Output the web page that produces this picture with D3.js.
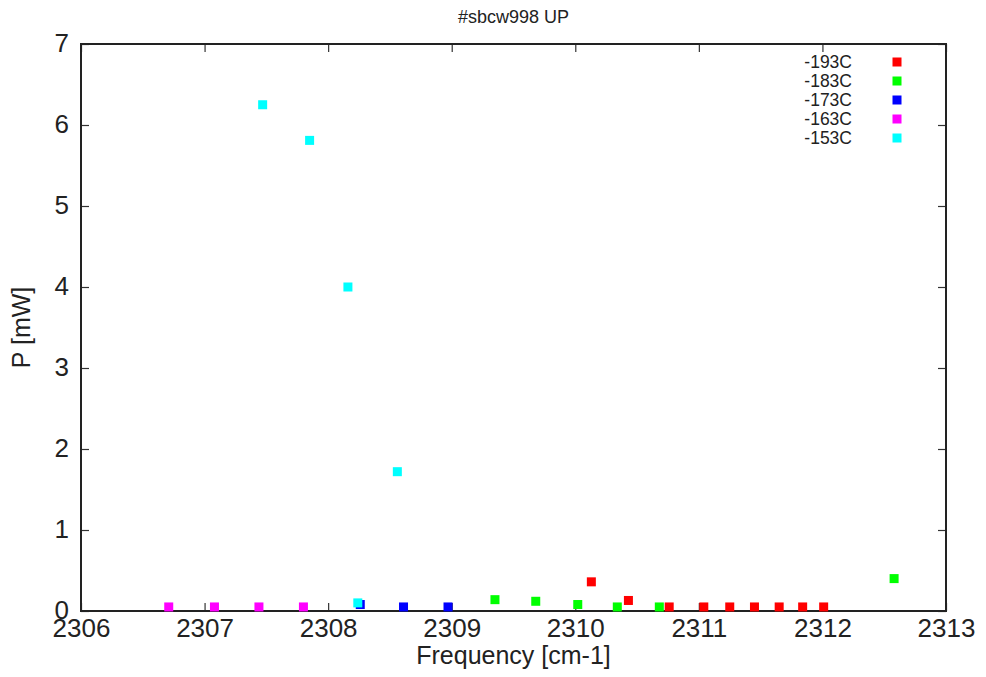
<!DOCTYPE html>
<html>
<head>
<meta charset="utf-8">
<script src="https://cdn.jsdelivr.net/npm/d3@7"></script>
<style>
  body { margin: 0; background: #fff; }
  text { font-family: "Liberation Sans", Arial, sans-serif; fill: #222; }
</style>
</head>
<body>
<div id="chart"></div>
<script>
// series, in draw order
const seriesNames = ['-193C', '-183C', '-173C', '-163C', '-153C'];
const seriesColors = ['#ff0000', '#00ff00', '#0000ff', '#ff00ff', '#00ffff'];

const freq193 = [2310.13, 2310.43, 2310.76, 2311.04, 2311.25, 2311.45, 2311.65, 2311.84, 2312.01];
const power193 = [0.36, 0.13, 0.05, 0.05, 0.05, 0.05, 0.05, 0.05, 0.05];

const freq183 = [2309.35, 2309.68, 2310.02, 2310.34, 2310.68, 2312.58];
const power183 = [0.14, 0.12, 0.08, 0.05, 0.05, 0.40];

const freq173 = [2308.26, 2308.61, 2308.97];
const power173 = [0.08, 0.05, 0.05];

const freq163 = [2306.71, 2307.08, 2307.44, 2307.80];
const power163 = [0.05, 0.05, 0.05, 0.05];

const freq153 = [2307.47, 2307.85, 2308.16, 2308.56, 2308.24];
const power153 = [6.25, 5.81, 4.00, 1.72, 0.10];

const xTicks = [2306, 2307, 2308, 2309, 2310, 2311, 2312, 2313];
const yTicks = [0, 1, 2, 3, 4, 5, 6, 7];

const allFreq = [freq193, freq183, freq173, freq163, freq153];
const allPower = [power193, power183, power173, power163, power153];

const width = 986, height = 677;
const margin = { top: 44, right: 40, bottom: 66, left: 81 };
const innerW = width - margin.left - margin.right;
const innerH = height - margin.top - margin.bottom;

const svg = d3.select('#chart').append('svg')
    .attr('width', width)
    .attr('height', height);

const x = d3.scaleLinear().domain([2306, 2313]).range([0, innerW]);
const y = d3.scaleLinear().domain([0, 7]).range([innerH, 0]);

const g = svg.append('g')
    .attr('transform', `translate(${margin.left},${margin.top})`);

// inward ticks on all four sides (gnuplot style)
const tickLen = 8;
g.append('g')
    .attr('transform', `translate(0,${innerH})`)
    .call(d3.axisBottom(x).tickValues(xTicks).tickSize(-tickLen).tickPadding(8).tickFormat(d3.format('d')))
    .call(a => a.select('.domain').remove())
    .call(a => a.selectAll('text').style('font-size', '26px').attr('dy', '0.71em'));

g.append('g')
    .call(d3.axisTop(x).tickValues(xTicks).tickSize(-tickLen).tickFormat(''))
    .call(a => a.select('.domain').remove());

g.append('g')
    .call(d3.axisLeft(y).tickValues(yTicks).tickSize(-tickLen).tickPadding(12).tickFormat(d3.format('d')))
    .call(a => a.select('.domain').remove())
    .call(a => a.selectAll('text').style('font-size', '26px').attr('dy', '0.27em'));

g.append('g')
    .attr('transform', `translate(${innerW},0)`)
    .call(d3.axisRight(y).tickValues(yTicks).tickSize(-tickLen).tickFormat(''))
    .call(a => a.select('.domain').remove());

g.selectAll('.tick line').attr('stroke', '#333').attr('stroke-width', 1.2);

// frame
g.append('rect')
    .attr('width', innerW)
    .attr('height', innerH)
    .attr('fill', 'none')
    .attr('stroke', '#222')
    .attr('stroke-width', 2);

// points
const size = 9;
seriesNames.forEach((name, i) => {
    const pts = allFreq[i].map((f, j) => ({ f: f, p: allPower[i][j] }));
    g.append('g').selectAll('rect')
        .data(pts)
        .join('rect')
        .attr('x', d => x(d.f) - size / 2)
        .attr('y', d => y(d.p) - size / 2)
        .attr('width', size)
        .attr('height', size)
        .attr('fill', seriesColors[i]);
});

// legend
const legend = g.append('g').attr('transform', `translate(${innerW - 49},18)`);
seriesNames.forEach((name, i) => {
    legend.append('text')
        .attr('x', -45)
        .attr('y', i * 19)
        .attr('dy', '0.36em')
        .attr('text-anchor', 'end')
        .style('font-size', '17.5px')
        .text(name);
    legend.append('rect')
        .attr('x', -size / 2)
        .attr('y', i * 19 - size / 2)
        .attr('width', size)
        .attr('height', size)
        .attr('fill', seriesColors[i]);
});

// titles
svg.append('text')
    .attr('x', margin.left + innerW / 2)
    .attr('y', 23)
    .attr('text-anchor', 'middle')
    .style('font-size', '18px')
    .text('#sbcw998 UP');

svg.append('text')
    .attr('x', margin.left + innerW / 2)
    .attr('y', 664)
    .attr('text-anchor', 'middle')
    .style('font-size', '25px')
    .text('Frequency [cm-1]');

svg.append('text')
    .attr('transform', `translate(30,${margin.top + innerH / 2}) rotate(-90)`)
    .attr('text-anchor', 'middle')
    .style('font-size', '25px')
    .text('P [mW]');
</script>
</body>
</html>
